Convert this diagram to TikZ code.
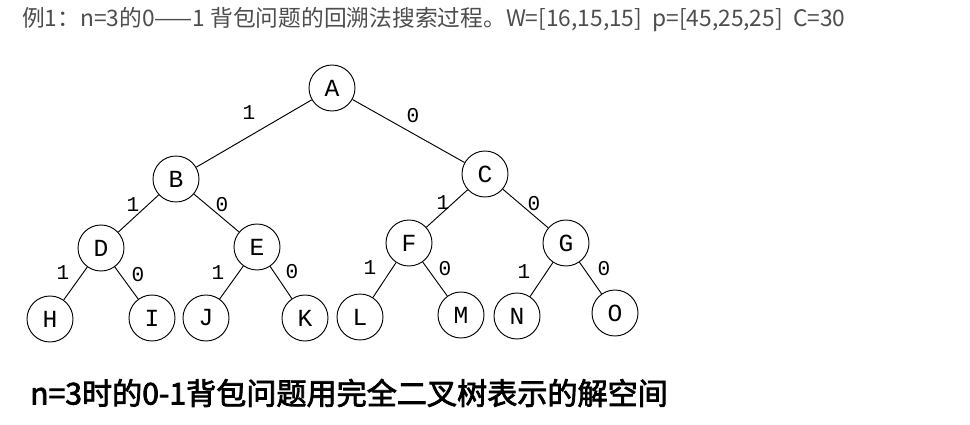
\documentclass[tikz,border=0pt]{standalone}
\usepackage{fontspec}
\setmainfont{Liberation Sans}
\newfontfamily\cjkfont{Noto Sans CJK SC}
\newfontfamily\capfont{Noto Sans CJK SC}[AutoFakeBold=2.5]
\newfontfamily\monofont{Liberation Mono}
\usetikzlibrary{positioning}

\definecolor{headgray}{RGB}{77,77,77}

\begin{document}
\begin{tikzpicture}[
    x=0.03cm, y=-0.03cm,
    treenode/.style={circle, draw=black, line width=0.8pt, minimum size=1.38cm, inner sep=0pt, font=\monofont\fontsize{21}{21}\selectfont},
    edgelabel/.style={inner sep=0pt, font=\monofont\fontsize{18}{18}\selectfont},
    edge/.style={line width=0.8pt}
]
\useasboundingbox (0,0) rectangle (970,425);

% Heading
\node[anchor=west, inner sep=0pt, text=headgray, font=\cjkfont\fontsize{19.4}{19.4}\selectfont] (title) at (22,20) {例1：n=3的0——1 背包问题的回溯法搜索过程。W=[16,15,15]\ \ p=[45,25,25]\ \ C=30};

% Root
\node[treenode] (a) at (332,88) {A};

% Level 1
\node[treenode] (b) at (176,179) {B};
\node[treenode] (c) at (485,174) {C};

% Level 2
\node[treenode] (d) at (101,248) {D};
\node[treenode] (e) at (257,247) {E};
\node[treenode] (f) at (409,243) {F};
\node[treenode] (g) at (566,243) {G};

% Leaves
\node[treenode] (h) at (50,319) {H};
\node[treenode] (i) at (152,318) {I};
\node[treenode] (j) at (206,318) {J};
\node[treenode] (k) at (305,318) {K};
\node[treenode] (l) at (360,317) {L};
\node[treenode] (m) at (461,315) {M};
\node[treenode] (n) at (517,316) {N};
\node[treenode] (o) at (615,313) {O};

% Edges
\draw[edge] (a) -- (b);
\draw[edge] (a) -- (c);
\draw[edge] (b) -- (d);
\draw[edge] (b) -- (e);
\draw[edge] (c) -- (f);
\draw[edge] (c) -- (g);
\draw[edge] (d) -- (h);
\draw[edge] (d) -- (i);
\draw[edge] (e) -- (j);
\draw[edge] (e) -- (k);
\draw[edge] (f) -- (l);
\draw[edge] (f) -- (m);
\draw[edge] (g) -- (n);
\draw[edge] (g) -- (o);

% Edge labels
\node[edgelabel] (lab) at (249,113) {1};
\node[edgelabel] (lac) at (413,116) {0};
\node[edgelabel] (lbd) at (133,205) {1};
\node[edgelabel] (lbe) at (222,205) {0};
\node[edgelabel] (lcf) at (443,203) {1};
\node[edgelabel] (lcg) at (534,204) {0};
\node[edgelabel] (ldh) at (63,273) {1};
\node[edgelabel] (ldi) at (138,275) {0};
\node[edgelabel] (lej) at (218,273) {1};
\node[edgelabel] (lek) at (292,272) {0};
\node[edgelabel] (lfl) at (370,268) {1};
\node[edgelabel] (lfm) at (445,269) {0};
\node[edgelabel] (lgn) at (524,272) {1};
\node[edgelabel] (lgo) at (604,269) {0};

% Caption
\node[anchor=west, inner sep=0pt, font=\capfont\bfseries\fontsize{25.7}{25.7}\selectfont] (caption) at (30,393) {n=3时的0-1背包问题用完全二叉树表示的解空间};

\end{tikzpicture}
\end{document}
